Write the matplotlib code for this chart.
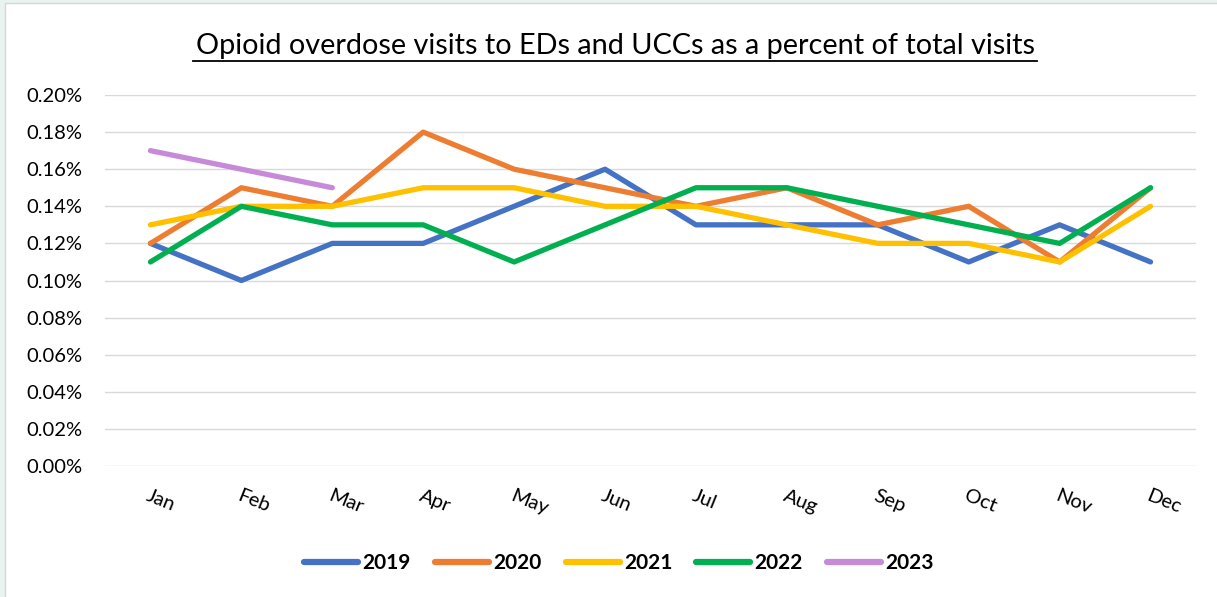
import matplotlib.pyplot as plt
from matplotlib.patches import Rectangle
from matplotlib.ticker import FuncFormatter

plt.rcParams['font.family'] = ['Lato', 'DejaVu Sans']

months = ["Jan", "Feb", "Mar", "Apr", "May", "Jun",
          "Jul", "Aug", "Sep", "Oct", "Nov", "Dec"]
v2019 = [0.12, 0.10, 0.12, 0.12, 0.14, 0.16, 0.13, 0.13, 0.13, 0.11, 0.13, 0.11]
v2020 = [0.12, 0.15, 0.14, 0.18, 0.16, 0.15, 0.14, 0.15, 0.13, 0.14, 0.11, 0.15]
v2021 = [0.13, 0.14, 0.14, 0.15, 0.15, 0.14, 0.14, 0.13, 0.12, 0.12, 0.11, 0.14]
v2022 = [0.11, 0.14, 0.13, 0.13, 0.11, 0.13, 0.15, 0.15, 0.14, 0.13, 0.12, 0.15]
v2023 = [0.17, 0.16, 0.15]

series = [("2019", v2019, "#4472C4"),
          ("2020", v2020, "#ED7D31"),
          ("2021", v2021, "#FFC000"),
          ("2022", v2022, "#00B050"),
          ("2023", v2023, "#C78AD9")]

fig = plt.figure(figsize=(12.17, 5.97), dpi=100)
fig.patch.set_facecolor("#E9F3F0")
# white chart panel with thin grey edge on top/left
fig.patches.append(Rectangle((5 / 1217, -0.01), 1.02, 1.01 - 3 / 597,
                             transform=fig.transFigure, facecolor="white",
                             edgecolor="#D6D6D6", linewidth=1, zorder=-10))

ax = fig.add_axes([105 / 1217, 1 - 466 / 597, 1091 / 1217, 371 / 597])
ax.set_facecolor("none")

for name, vals, col in series:
    ax.plot(range(len(vals)), vals, color=col, lw=3.8, label=name,
            solid_capstyle="round", solid_joinstyle="round")

ax.set_xlim(-0.5, 11.5)
ax.set_ylim(0, 0.2)
ax.set_yticks([i * 0.02 for i in range(11)])
ax.yaxis.set_major_formatter(FuncFormatter(lambda v, p: f"{v:.2f}%"))
ax.grid(axis="y", color="#D9D9D9", lw=1.0)
ax.set_axisbelow(True)
for s in ax.spines.values():
    s.set_visible(False)
ax.tick_params(length=0, labelsize=14.5)
ax.tick_params(axis="y", pad=16.5)
ax.set_xticks(range(12))
ax.set_xticklabels(months, rotation=-22, ha="left", rotation_mode="anchor")
ax.tick_params(axis="x", pad=15)

fig.text(615 / 1217, 1 - 46 / 597,
         "Opioid overdose visits to EDs and UCCs as a percent of total visits",
         ha="center", va="center", fontsize=20.8)
fig.add_artist(plt.Line2D([193 / 1217, 1037 / 1217], [1 - 61 / 597, 1 - 61 / 597],
                          color="black", lw=1.3))

leg = fig.legend(loc="center", bbox_to_anchor=(619 / 1217, 1 - 563 / 597),
                 ncol=5, frameon=False, handlelength=2.6, columnspacing=1.15,
                 handletextpad=0.2, prop={"weight": "bold", "size": 15})
for h in leg.legend_handles:
    h.set_linewidth(4.5)

fig.savefig("out.png", dpi=100)
